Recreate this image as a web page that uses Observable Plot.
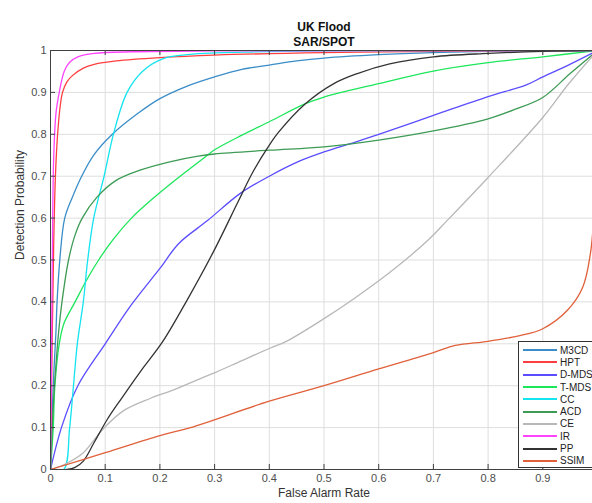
<!DOCTYPE html>
<html><head><meta charset="utf-8">
<script src="https://cdn.jsdelivr.net/npm/d3@7"></script>
<script src="https://cdn.jsdelivr.net/npm/@observablehq/plot@0.6"></script>
<style>
html,body{margin:0;padding:0;background:#fff;overflow:hidden;width:592px;height:503px}
#wrap{position:relative;width:598px;height:503px}
#wrap svg{max-width:none !important;display:block}
#legend{position:absolute;left:518px;top:341px;width:86px;height:127px;border:1px solid #333;background:#fff;box-sizing:border-box;padding-top:2px;font:10px "Liberation Sans",Arial,sans-serif;color:#222}
.row{height:12.3px;display:flex;align-items:center;white-space:nowrap}
.sw{width:34px;height:2px;margin-left:4px;margin-right:3px;flex:none}
</style></head><body><div id="wrap"><div id="legend"></div></div>
<script>
const xTicks = [0,0.1,0.2,0.3,0.4,0.5,0.6,0.7,0.8,0.9,1];
const yTicks = [0,0.1,0.2,0.3,0.4,0.5,0.6,0.7,0.8,0.9,1];
const xTickLabels = [0,0.1,0.2,0.3,0.4,0.5,0.6,0.7,0.8,0.9];
const names = ["M3CD","HPT","D-MDS","T-MDS","CC","ACD","CE","IR","PP","SSIM"];
const colors = ["#3a8dc8","#ff3f3f","#5b4dff","#1de65a","#14e3f0","#3d9b55","#b8b8b8","#ff44ff","#333333","#e0603a"];

const M3CD = [[0,0],[0.005,0.2],[0.01,0.33],[0.012,0.4],[0.017,0.5],[0.026,0.6],[0.04,0.65],[0.057,0.7],[0.08,0.752],[0.113,0.8],[0.16,0.85],[0.2,0.885],[0.25,0.915],[0.3,0.937],[0.35,0.955],[0.4,0.965],[0.45,0.975],[0.5,0.982],[0.6,0.99],[0.7,0.995],[0.8,0.998],[1,1]];
const HPT = [[0,0],[0.003,0.3],[0.006,0.55],[0.009,0.7],[0.013,0.8],[0.018,0.87],[0.022,0.9],[0.03,0.925],[0.04,0.94],[0.06,0.958],[0.08,0.967],[0.12,0.975],[0.2,0.983],[0.3,0.989],[0.5,0.995],[0.7,0.998],[1,1]];
const DMDS = [[0,0],[0.02,0.1],[0.05,0.2],[0.1,0.3],[0.146,0.39],[0.2,0.48],[0.235,0.54],[0.287,0.594],[0.347,0.659],[0.4,0.7],[0.457,0.737],[0.5,0.758],[0.556,0.781],[0.6,0.8],[0.7,0.845],[0.8,0.89],[0.87,0.918],[0.9,0.937],[0.945,0.964],[1,1]];
const TMDS = [[0,0],[0.005,0.1],[0.008,0.2],[0.016,0.3],[0.025,0.35],[0.045,0.4],[0.065,0.45],[0.088,0.5],[0.115,0.55],[0.148,0.6],[0.19,0.65],[0.237,0.7],[0.282,0.745],[0.3,0.763],[0.35,0.798],[0.4,0.83],[0.466,0.873],[0.5,0.889],[0.6,0.921],[0.7,0.951],[0.8,0.971],[0.9,0.985],[1,1]];
const CC = [[0,0],[0.024,0],[0.035,0.1],[0.042,0.2],[0.049,0.3],[0.06,0.4],[0.068,0.5],[0.079,0.6],[0.098,0.7],[0.115,0.8],[0.14,0.9],[0.168,0.95],[0.205,0.98],[0.25,0.99],[0.35,0.996],[0.5,0.999],[1,1]];
const ACD = [[0,0],[0.005,0.15],[0.01,0.25],[0.015,0.33],[0.021,0.4],[0.033,0.5],[0.045,0.56],[0.058,0.6],[0.085,0.65],[0.12,0.69],[0.165,0.715],[0.22,0.735],[0.27,0.748],[0.3,0.753],[0.4,0.762],[0.5,0.77],[0.6,0.786],[0.7,0.808],[0.8,0.837],[0.85,0.86],[0.9,0.888],[0.95,0.945],[1,1]];
const CE = [[0,0],[0.03,0.015],[0.06,0.04],[0.097,0.098],[0.133,0.14],[0.183,0.17],[0.225,0.19],[0.274,0.217],[0.302,0.232],[0.35,0.26],[0.402,0.29],[0.43,0.305],[0.5,0.36],[0.554,0.407],[0.62,0.47],[0.69,0.547],[0.725,0.594],[0.8,0.697],[0.9,0.84],[0.947,0.92],[1,1]];
const IR = [[0,0],[0.002,0.3],[0.004,0.6],[0.006,0.75],[0.01,0.85],[0.016,0.9],[0.025,0.95],[0.035,0.972],[0.05,0.985],[0.08,0.993],[0.15,0.997],[0.3,0.999],[1,1]];
const PP = [[0,0],[0.03,0],[0.045,0.005],[0.06,0.02],[0.08,0.065],[0.104,0.12],[0.13,0.17],[0.165,0.235],[0.205,0.305],[0.25,0.405],[0.298,0.52],[0.344,0.642],[0.37,0.71],[0.397,0.768],[0.417,0.805],[0.466,0.873],[0.518,0.921],[0.561,0.945],[0.62,0.968],[0.7,0.985],[0.8,0.993],[0.9,0.998],[1,1]];
const SSIM = [[0,0],[0.1,0.04],[0.2,0.081],[0.256,0.1],[0.4,0.163],[0.5,0.2],[0.6,0.24],[0.7,0.279],[0.74,0.296],[0.8,0.306],[0.86,0.32],[0.9,0.336],[0.945,0.38],[0.973,0.435],[0.987,0.515],[0.993,0.6],[0.997,0.8],[1,1]];

const seriesPts = [M3CD,HPT,DMDS,TMDS,CC,ACD,CE,IR,PP,SSIM];
const data = names.flatMap((n,i) => seriesPts[i].map(([x,y]) => ({name:n, x, y})));

const W = 598, H = 503, mL = 50, mR = 1, mT = 50, mB = 34;
const fh = H - mT - mB, fw = W - mL - mR;
const axisColor = "#404040";

const chart = Plot.plot({
  width: W, height: H,
  marginLeft: mL, marginRight: mR, marginTop: mT, marginBottom: mB,
  style: {fontFamily: "'Liberation Sans', Arial, sans-serif", fontSize: "11px", background: "#fff", maxWidth: "none"},
  x: {domain: [0,1]},
  y: {domain: [0,1]},
  color: {domain: names, range: colors},
  marks: [
    Plot.gridX(xTicks, {stroke: "#dedede", strokeOpacity: 1}),
    Plot.gridY(yTicks, {stroke: "#dedede", strokeOpacity: 1}),
    Plot.line(data, {x: "x", y: "y", z: "name", stroke: "name", curve: "catmull-rom", strokeWidth: 1.3, clip: true}),
    Plot.frame({stroke: axisColor}),
    Plot.tickX(xTicks, {x: d => d, insetTop: fh - 5, stroke: axisColor}),
    Plot.tickX(xTicks, {x: d => d, insetBottom: fh - 5, stroke: axisColor}),
    Plot.tickY(yTicks, {y: d => d, insetRight: fw - 5, stroke: axisColor}),
    Plot.axisX(xTickLabels, {tickSize: 0, tickPadding: 5, tickFormat: d3.format(""), fill: "#4d4d4d", label: null}),
    Plot.axisY(yTicks, {tickSize: 0, tickPadding: 4, tickFormat: d3.format(""), fill: "#4d4d4d", label: null}),
    Plot.text(["UK Flood"], {text: d => d, frameAnchor: "top", dy: -28, fontWeight: "bold", fontSize: 12, fill: "#111"}),
    Plot.text(["SAR/SPOT"], {text: d => d, frameAnchor: "top", dy: -13, fontWeight: "bold", fontSize: 12, fill: "#111"}),
    Plot.text(["False Alarm Rate"], {text: d => d, frameAnchor: "bottom", dy: 27, fontSize: 12, fill: "#333"}),
    Plot.text(["Detection Probability"], {text: d => d, frameAnchor: "left", dx: -30, rotate: -90, fontSize: 12, fill: "#333"})
  ]
});
const wrap = document.getElementById("wrap");
wrap.insertBefore(chart, wrap.firstChild);

const legend = document.getElementById("legend");
names.forEach((n,i) => {
  const row = document.createElement("div");
  row.className = "row";
  const sw = document.createElement("span");
  sw.className = "sw";
  sw.style.background = colors[i];
  const t = document.createElement("span");
  t.textContent = n;
  row.appendChild(sw); row.appendChild(t);
  legend.appendChild(row);
});
</script></body></html>
